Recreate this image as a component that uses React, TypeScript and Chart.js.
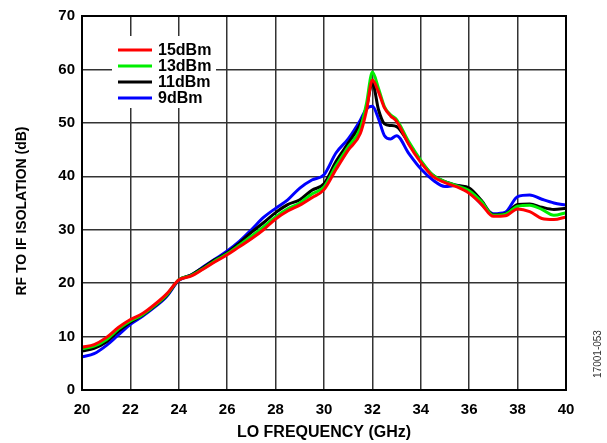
import React, { useEffect, useRef } from "react";
import { Chart, registerables } from "chart.js";

Chart.register(...registerables);

const FREQ = [20, 20.5, 21, 21.5, 22, 22.5, 23, 23.5, 24, 24.5, 25, 25.5, 26, 26.5, 27, 27.5, 28, 28.5, 29, 29.5, 30, 30.5, 31, 31.5, 31.75, 32, 32.25, 32.5, 32.75, 33, 33.5, 34, 34.5, 35, 35.5, 36, 36.5, 37, 37.5, 38, 38.5, 39, 39.5, 40];

const S15 = [8.0, 8.5, 9.8, 11.7, 13.2, 14.3, 16.0, 18.0, 20.6, 21.3, 22.6, 24.0, 25.3, 26.8, 28.3, 30.0, 32.0, 33.5, 34.6, 36.0, 37.5, 41.3, 44.9, 48.0, 52.2, 58.0, 55.8, 52.8, 51.3, 50.3, 46.0, 42.6, 40.0, 38.8, 38.0, 36.8, 34.8, 32.5, 32.6, 33.9, 33.4, 32.1, 31.9, 32.4];
const S13 = [7.7, 8.2, 9.4, 11.4, 12.9, 14.1, 15.8, 17.8, 20.6, 21.4, 22.7, 24.2, 25.5, 27.1, 28.8, 30.5, 32.4, 33.9, 35.0, 36.7, 38.0, 42.0, 45.5, 49.0, 53.5, 59.5, 56.5, 53.0, 51.5, 50.6, 46.5, 43.0, 40.2, 39.0, 38.2, 37.3, 35.3, 32.7, 32.9, 34.4, 34.6, 33.8, 32.7, 33.2];
const S11 = [7.3, 7.8, 9.0, 11.0, 12.7, 14.0, 15.7, 17.7, 20.6, 21.5, 22.9, 24.4, 25.7, 27.5, 29.5, 31.3, 33.2, 34.7, 35.6, 37.4, 38.6, 42.8, 46.2, 49.8, 52.8, 57.5, 52.5, 49.8, 49.5, 49.3, 46.2, 42.8, 40.2, 39.0, 38.3, 37.8, 35.5, 32.8, 33.0, 34.7, 34.8, 34.2, 33.8, 34.0];
const S9 = [6.2, 6.8, 8.3, 10.3, 12.3, 13.8, 15.5, 17.5, 20.5, 21.5, 23.0, 24.5, 26.0, 27.8, 30.0, 32.3, 34.0, 35.6, 37.8, 39.3, 40.3, 44.4, 47.0, 50.5, 52.6, 53.1, 50.8, 47.6, 47.0, 47.6, 44.3, 41.4, 39.3, 38.1, 38.3, 37.1, 34.8, 33.0, 33.3, 36.2, 36.5, 35.7, 35.0, 34.6];

const SERIES_LABELS = ["15dBm", "13dBm", "11dBm", "9dBm"];
const SERIES_COLORS = ["#ff0000", "#00ee00", "#000000", "#0000ff"];
const X_TICKS = [20, 22, 24, 26, 28, 30, 32, 34, 36, 38, 40];
const Y_TICKS = [0, 10, 20, 30, 40, 50, 60, 70];
const X_TITLE = "LO FREQUENCY (GHz)";
const Y_TITLE = "RF TO IF ISOLATION (dB)";
const FIG_ID = "17001-053";

const FONT = "'Liberation Sans', Arial, sans-serif";

export default function App() {
  const ref = useRef<HTMLCanvasElement | null>(null);

  useEffect(() => {
    document.body.style.margin = "0";
    const canvas = ref.current;
    if (!canvas) return;
    const allSeries = [S15, S13, S11, S9];

    const overlayPlugin = {
      id: "overlay",
      afterDatasetsDraw(chart: any) {
        const ctx = chart.ctx;
        ctx.save();
        // legend
        ctx.fillStyle = "#ffffff";
        ctx.fillRect(112, 36, 104, 72);
        ctx.font = `bold 16px ${FONT}`;
        ctx.textBaseline = "middle";
        ctx.textAlign = "left";
        SERIES_LABELS.forEach((lab, i) => {
          const y = 50 + i * 16;
          ctx.strokeStyle = SERIES_COLORS[i];
          ctx.lineWidth = 3;
          ctx.beginPath();
          ctx.moveTo(118, y);
          ctx.lineTo(152, y);
          ctx.stroke();
          ctx.fillStyle = "#000";
          ctx.fillText(lab, 158, y + 1);
        });
        // plot frame
        const a = chart.chartArea;
        ctx.strokeStyle = "#000";
        ctx.lineWidth = 2;
        ctx.strokeRect(a.left, a.top, a.right - a.left, a.bottom - a.top);
        // axis titles
        ctx.fillStyle = "#000";
        ctx.textAlign = "center";
        ctx.textBaseline = "middle";
        ctx.font = `bold 16px ${FONT}`;
        ctx.fillText(X_TITLE, (a.left + a.right) / 2, 433);
        ctx.save();
        ctx.translate(22, 211);
        ctx.rotate(-Math.PI / 2);
        ctx.font = `bold 14px ${FONT}`;
        ctx.fillText(Y_TITLE, 0, 0);
        ctx.restore();
        // figure id
        ctx.translate(598, 354);
        ctx.rotate(-Math.PI / 2);
        ctx.font = `10px ${FONT}`;
        ctx.fillStyle = "#333";
        ctx.textAlign = "center";
        ctx.fillText(FIG_ID, 0, 0);
        ctx.restore();
      },
    };

    const chart = new Chart(canvas, {
      type: "line",
      data: {
        datasets: SERIES_LABELS.map((lab, i) => ({
          label: lab,
          data: FREQ.map((f, j) => ({ x: f, y: allSeries[i][j] })),
          borderColor: SERIES_COLORS[i],
          backgroundColor: SERIES_COLORS[i],
          borderWidth: 3,
          pointRadius: 0,
          cubicInterpolationMode: "monotone" as const,
          fill: false,
        })),
      },
      options: {
        responsive: false,
        animation: false,
        events: [],
        layout: { padding: { left: 0, right: 41, top: 10, bottom: 0 } },
        plugins: { legend: { display: false }, tooltip: { enabled: false } },
        scales: {
          x: {
            type: "linear",
            min: 20,
            max: 40,
            afterBuildTicks: (s: any) => {
              s.ticks = X_TICKS.map((v) => ({ value: v }));
            },
            afterFit: (s: any) => {
              s.height = 53;
            },
            grid: { color: "#333", lineWidth: 1.5, drawTicks: false },
            border: { color: "#000", width: 2 },
            ticks: {
              color: "#000",
              padding: 11,
              maxRotation: 0,
              font: { family: FONT, size: 15, weight: "bold" },
            },
            title: { display: false },
          },
          y: {
            type: "linear",
            min: 0,
            max: 70,
            afterBuildTicks: (s: any) => {
              s.ticks = Y_TICKS.map((v) => ({ value: v }));
            },
            afterFit: (s: any) => {
              s.width = 82;
            },
            grid: { color: "#333", lineWidth: 1.5, drawTicks: false },
            border: { color: "#000", width: 2 },
            ticks: {
              color: "#000",
              padding: 7,
              font: { family: FONT, size: 15, weight: "bold" },
            },
            title: { display: false },
          },
        },
      },
      plugins: [overlayPlugin],
    });
    return () => chart.destroy();
  }, []);

  return (
    <div style={{ width: 607, height: 443, position: "relative" }}>
      <canvas ref={ref} width={607} height={443} style={{ display: "block" }} />
    </div>
  );
}
